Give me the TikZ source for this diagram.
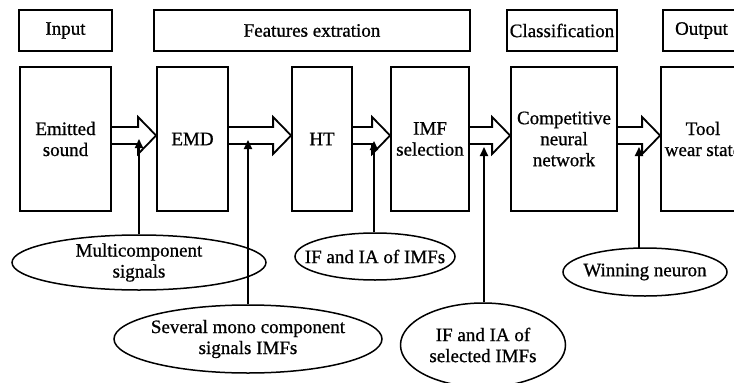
\documentclass[tikz,border=0pt]{standalone}
\usepackage{fontspec}
\setmainfont{Liberation Serif}[FakeBold=0.8]
\usetikzlibrary{calc,shapes.geometric,arrows.meta}
\newcommand\harr[2]{%
  \draw[hollow] (#1.east |- 0,127) -- ($(#2.west |- 0,127)+(-18,0)$) -- ++(0,-10)
    -- (#2.west |- 0,135.5) -- ($(#2.west |- 0,154)+(-18,0)$) -- ++(0,-10) -- (#1.east |- 0,144);}
\begin{document}
\begin{tikzpicture}[x=1pt,y=-1pt,
  every node/.style={font=\fontsize{19}{21}\selectfont},
  hdr/.style={draw,line width=1.8pt,minimum height=41pt,inner sep=1pt},
  blk/.style={draw,line width=1.8pt,minimum height=144pt,align=center,inner sep=1pt},
  ellip/.style={draw,ellipse,line width=1.5pt,inner sep=0pt},
  lbl/.style={align=center,inner sep=0pt},
  hollow/.style={line width=1.8pt,line join=miter},
  uparr/.style={line width=1.8pt,-{Triangle[length=9pt,width=8pt]}}]
\useasboundingbox (0,0) rectangle (734,383);
\clip (0,0) rectangle (734,383);
% header boxes
\node[hdr,minimum width=93pt] (hin) at (65.5,30.5) {Input};
\node[hdr,minimum width=316pt] (hfe) at (312,30.5) {Features extration};
\node[hdr,minimum width=110pt] (hcl) at (562,30.5) {Classification};
\node[hdr,minimum width=77pt] (hout) at (701.5,30.5) {Output};
% process boxes
\node[blk,minimum width=91pt] (snd) at (65.5,139) {Emitted\\sound};
\node[blk,minimum width=71pt] (emd) at (192.5,139) {EMD};
\node[blk,minimum width=60pt] (ht) at (322,139) {HT};
\node[blk,minimum width=78pt] (imf) at (430,139) {IMF\\selection};
\node[blk,minimum width=106pt] (cnn) at (564,139) {Competitive\\neural\\network};
\node[blk,minimum width=84pt] (tool) at (703,139) {Tool\\wear state};
% hollow arrows
\harr{snd}{emd}
\harr{emd}{ht}
\harr{ht}{imf}
\harr{imf}{cnn}
\harr{cnn}{tool}
% ellipses
\node[ellip,minimum width=254pt,minimum height=55pt] (e1) at (139,262.5) {};
\node[lbl] (l1) at (e1) {Multicomponent\\signals};
\node[ellip,minimum width=268pt,minimum height=68pt] (e2) at (248,339) {};
\node[lbl] (l2) at (e2) {Several mono component\\signals IMFs};
\node[ellip,minimum width=160pt,minimum height=47pt] (e3) at (375,256.5) {};
\node[lbl] (l3) at (e3) {IF and IA of IMFs};
\node[ellip,minimum width=165pt,minimum height=84pt] (e4) at (483,345) {};
\node[lbl] (l4) at (e4) {IF and IA of\\selected IMFs};
\node[ellip,minimum width=164pt,minimum height=48pt] (e5) at (645,272) {};
\node[lbl] (l5) at (e5) {Winning neuron};
% up arrows
\coordinate (t1) at (139,139);
\coordinate (t2) at (248,140);
\coordinate (t3) at (374,141);
\coordinate (t4) at (484,147);
\coordinate (t5) at (639,147);
\draw[uparr] (e1.north) -- (t1);
\draw[uparr] (e2.north) -- (t2);
\draw[uparr] (e3.north -| t3) -- (t3);
\draw[uparr] (e4.north -| t4) -- (t4);
\draw[uparr] ($(e5.north -| t5)+(0,1)$) -- (t5);
\end{tikzpicture}
\end{document}
